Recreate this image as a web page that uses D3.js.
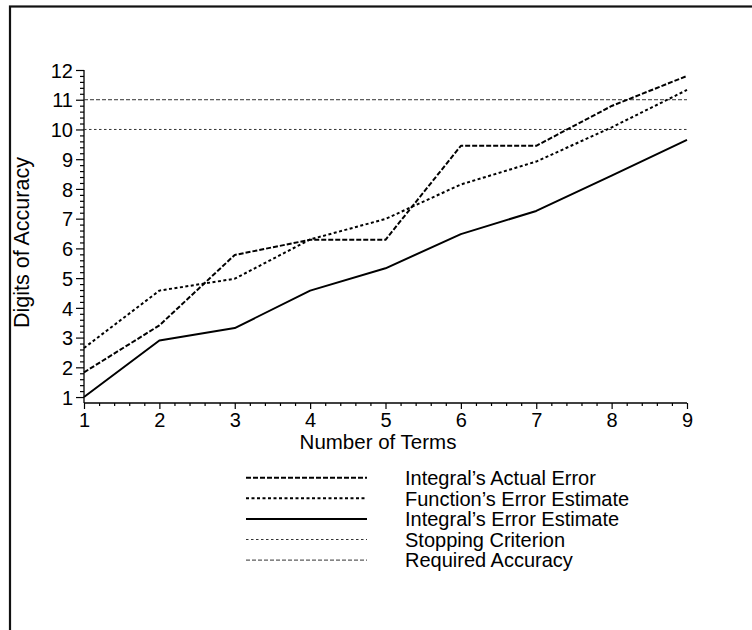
<!DOCTYPE html>
<html>
<head>
<meta charset="utf-8">
<script src="https://cdn.jsdelivr.net/npm/d3@7"></script>
<style>
html,body{margin:0;padding:0;background:#fff;overflow:hidden;}
svg{display:block;font-family:"Liberation Sans",Arial,Helvetica,sans-serif;}
</style>
</head>
<body>
<svg id="chart" width="752" height="630"></svg>
<script>
// ---- data ----
const terms = [1, 2, 3, 4, 5, 6, 7, 8, 9];
const actualError = [1.83, 3.41, 5.78, 6.29, 6.29, 9.45, 9.45, 10.79, 11.8];
const functionEstimate = [2.65, 4.58, 4.98, 6.3, 6.99, 8.15, 8.92, 10.07, 11.33];
const integralEstimate = [1.0, 2.9, 3.32, 4.58, 5.33, 6.48, 7.26, 8.45, 9.65];
const stoppingCriterion = 10;
const requiredAccuracy = 11;
const xTicks = [1, 2, 3, 4, 5, 6, 7, 8, 9];
const yTicks = [1, 2, 3, 4, 5, 6, 7, 8, 9, 10, 11, 12];
const legendLabels = ["Integral\u2019s Actual Error", "Function\u2019s Error Estimate", "Integral\u2019s Error Estimate", "Stopping Criterion", "Required Accuracy"];

const svg = d3.select("#chart");

// frame (extends past the viewport on right/bottom)
svg.append("rect").attr("x", 10).attr("y", 6.5).attr("width", 800).attr("height", 700)
  .attr("fill", "none").attr("stroke", "#111").attr("stroke-width", 2.2);

const x = d3.scaleLinear().domain([1, 9]).range([84, 687]);
const y = d3.scaleLinear().domain([0.8, 12]).range([403, 70]);

const isMajor = d => Math.abs(d - Math.round(d)) < 1e-6;

const gx = svg.append("g").attr("transform", "translate(0,403)");
gx.call(d3.axisBottom(x).tickValues(d3.range(1, 9.001, 0.2)).tickSize(3).tickFormat(""));
gx.selectAll(".tick").filter(isMajor).select("line").attr("y2", 6);
gx.selectAll(".tick").filter(d => isMajor(d) && xTicks.includes(Math.round(d)))
  .append("text").attr("y", 24).attr("fill", "#000").attr("text-anchor", "middle")
  .style("font-size", "20px").text(d => Math.round(d));
gx.select(".domain").attr("d", `M${x(1)},0H${x(9)}`);

const gy = svg.append("g").attr("transform", "translate(84,0)");
gy.call(d3.axisLeft(y).tickValues(d3.range(1, 12.001, 0.2)).tickSize(4).tickFormat(""));
gy.selectAll(".tick").filter(isMajor).select("line").attr("x2", -8);
gy.selectAll(".tick").filter(d => isMajor(d) && yTicks.includes(Math.round(d)))
  .append("text").attr("x", -11).attr("dy", "0.36em").attr("fill", "#000").attr("text-anchor", "end")
  .style("font-size", "20px").text(d => Math.round(d));
gy.select(".domain").attr("d", `M0,${y(0.8)}V${y(12)}`);
svg.selectAll(".domain").attr("stroke", "#000").attr("stroke-width", 1.3);
svg.selectAll(".tick line").attr("stroke", "#000").attr("stroke-width", 1.2);

// axis titles
svg.append("text").attr("x", 378).attr("y", 449).attr("text-anchor", "middle")
  .style("font-size", "20.5px").text("Number of Terms");
svg.append("text").attr("transform", `translate(29,${(y(0.8) + y(12)) / 2 + 6}) rotate(-90)`)
  .attr("text-anchor", "middle").style("font-size", "21.5px").text("Digits of Accuracy");

// styles
const styles = [
  { w: 2, dash: "5,2", color: "#000" },
  { w: 2, dash: "3,2.5", color: "#000" },
  { w: 2, dash: null, color: "#000" },
  { w: 1, dash: "2.5,2.5", color: "#333" },
  { w: 1, dash: "4,2", color: "#333" }
];

// reference lines
[[stoppingCriterion, styles[3]], [requiredAccuracy, styles[4]]].forEach(([v, s]) => {
  svg.append("line").attr("x1", x(1)).attr("x2", x(9)).attr("y1", y(v)).attr("y2", y(v))
    .attr("stroke", s.color).attr("stroke-width", s.w).attr("stroke-dasharray", s.dash);
});

const line = d3.line().x((d, i) => x(terms[i])).y(d => y(d));
[[actualError, styles[0]], [functionEstimate, styles[1]], [integralEstimate, styles[2]]].forEach(([data, s]) => {
  svg.append("path").datum(data).attr("d", line).attr("fill", "none")
    .attr("stroke", s.color).attr("stroke-width", s.w).attr("stroke-dasharray", s.dash)
    .attr("stroke-linejoin", "round");
});

// legend
const lg = svg.append("g");
legendLabels.forEach((lab, i) => {
  const ly = 477.7 + i * 20.6;
  const s = styles[i];
  lg.append("line").attr("x1", 246).attr("x2", 367).attr("y1", ly).attr("y2", ly)
    .attr("stroke", s.color).attr("stroke-width", s.w).attr("stroke-dasharray", s.dash);
  lg.append("text").attr("x", 405).attr("y", ly + 7.3).style("font-size", "20px").text(lab);
});
</script>
</body>
</html>
